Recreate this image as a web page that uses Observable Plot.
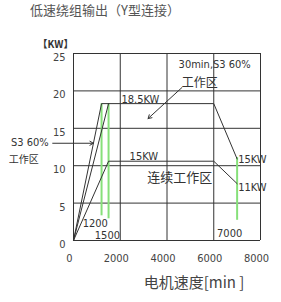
<!DOCTYPE html>
<html><head><meta charset="utf-8">
<script src="https://cdn.jsdelivr.net/npm/d3@7"></script>
<script src="https://cdn.jsdelivr.net/npm/@observablehq/plot@0.6"></script>
<style>
body{margin:0;background:#fff;width:281px;height:302px;overflow:hidden}
#title{height:28px;line-height:26px;padding-left:30px;font:13px "Noto Sans CJK SC";color:#555;white-space:nowrap}
</style></head><body>
<div id="title">低速绕组输出（Y型连接）</div>
<div id="chart"></div>
<script>
const xTicks = [0, 2000, 4000, 6000, 8000];
const yTicks = [0, 5, 10, 15, 20, 25];
// S3 60% curve (18.5KW)
const s3Speed = [0, 1200, 6000, 7000];
const s3Power = [0, 18.3, 18.3, 10.9];
const s3RampSpeed = [0, 1500];
const s3RampPower = [0, 18.3];
// continuous curve (15KW)
const contSpeed = [0, 1500, 6000, 7000];
const contPower = [0, 10.6, 10.6, 7.6];
// green markers
const greenSpeed = [1200, 1500, 7000];
const greenTop = [18.3, 18.3, 11.1];
const greenBottom = [3.3, 2.9, 2.7];
// power labels (left-anchored)
const powerLabels = ["18.5KW", "15KW", "15KW", "11KW"];
const powerX = [2050, 2400, 7000, 7000];
const powerY = [18.3, 10.6, 10.8, 7.1];
// speed labels
const speedLabels = ["1200", "1500", "7000"];
const speedX = [930, 1450, 6680];
const speedY = [2.3, 0.7, 0.9];
// zone labels
const zoneLatin = ["30min,S3 60%", "S3 60%"];
const zoneLatinX = [6040, -1870];
const zoneLatinY = [23.6, 13.1];
const zoneCjk = ["工作区", "工作区", "连续工作区"];
const zoneCjkX = [5400, -2130, 4550];
const zoneCjkY = [21.1, 10.8, 8.4];
const zoneCjkSize = [12, 10, 13];
const arrowX1 = [4640, -890];
const arrowY1 = [20.45, 13.0];
const arrowX2 = [3190, 850];
const arrowY2 = [16.3, 13.0];

const narrow = "'Liberation Sans Narrow','DejaVu Sans Condensed',sans-serif";
const cjk = "'Noto Sans CJK SC',sans-serif";
const idx = (a) => a.map((_, i) => i);

const chart = Plot.plot({
  width: 281,
  height: 274,
  marginLeft: 73,
  marginRight: 21,
  marginTop: 25,
  marginBottom: 62,
  x: {domain: [0, 8000]},
  y: {domain: [0, 25]},
  style: {background: "#fff", color: "#444"},
  marks: [
    Plot.gridX(xTicks, {stroke: "#333", strokeOpacity: 1, strokeWidth: 1}),
    Plot.gridY(yTicks, {stroke: "#333", strokeOpacity: 1, strokeWidth: 1}),
    Plot.axisX(xTicks, {tickSize: 0, tickPadding: 14, dx: -4, tickFormat: (d) => String(d), fontSize: 11, fontFamily: narrow, fill: "#444", label: null}),
    Plot.axisY(yTicks, {tickSize: 0, tickPadding: 8, dy: 4, tickFormat: (d) => String(d), fontSize: 11, fontFamily: narrow, fill: "#444", label: null}),
    Plot.ruleX(idx(greenSpeed), {x: (i) => greenSpeed[i], y1: (i) => greenBottom[i], y2: (i) => greenTop[i], stroke: "#86e07a", strokeWidth: 2}),
    Plot.line(idx(s3Speed), {x: (i) => s3Speed[i], y: (i) => s3Power[i], stroke: "#333", strokeWidth: 1}),
    Plot.line(idx(s3RampSpeed), {x: (i) => s3RampSpeed[i], y: (i) => s3RampPower[i], stroke: "#333", strokeWidth: 1}),
    Plot.line(idx(contSpeed), {x: (i) => contSpeed[i], y: (i) => contPower[i], stroke: "#333", strokeWidth: 1}),
    Plot.arrow(idx(arrowX1), {x1: (i) => arrowX1[i], y1: (i) => arrowY1[i], x2: (i) => arrowX2[i], y2: (i) => arrowY2[i], stroke: "#333", strokeWidth: 1, headLength: 6}),
    Plot.text(idx(powerLabels).slice(0, 2), {x: (i) => powerX[i], y: (i) => powerY[i], text: (i) => powerLabels[i], textAnchor: "start", lineAnchor: "bottom", dy: -1, fontSize: 11, fontFamily: narrow, fill: "#333"}),
    Plot.text(idx(powerLabels).slice(2), {x: (i) => powerX[i], y: (i) => powerY[i], text: (i) => powerLabels[i], textAnchor: "start", lineAnchor: "middle", dx: 1, fontSize: 11, fontFamily: narrow, fill: "#333"}),
    Plot.text(idx(speedLabels), {x: (i) => speedX[i], y: (i) => speedY[i], text: (i) => speedLabels[i], fontSize: 11, fontFamily: narrow, fill: "#333"}),
    Plot.text(idx(zoneLatin), {x: (i) => zoneLatinX[i], y: (i) => zoneLatinY[i], text: (i) => zoneLatin[i], fontSize: 11, fontFamily: narrow, fill: "#333"}),
    Plot.text(idx(zoneCjk), {x: (i) => zoneCjkX[i], y: (i) => zoneCjkY[i], text: (i) => zoneCjk[i], fontSize: (i) => zoneCjkSize[i], fontFamily: cjk, fill: "#333"}),
    Plot.text(["【KW】"], {frameAnchor: "top-left", dx: -18, dy: -13, textAnchor: "middle", fontSize: 10, fontFamily: cjk, fontWeight: "bold", fill: "#333"}),
    Plot.text(["电机速度[min ]"], {frameAnchor: "bottom", dx: 27, dy: 47, fontSize: 15, fontFamily: cjk, fill: "#444"})
  ]
});
document.getElementById("chart").appendChild(chart);
</script>
</body></html>
